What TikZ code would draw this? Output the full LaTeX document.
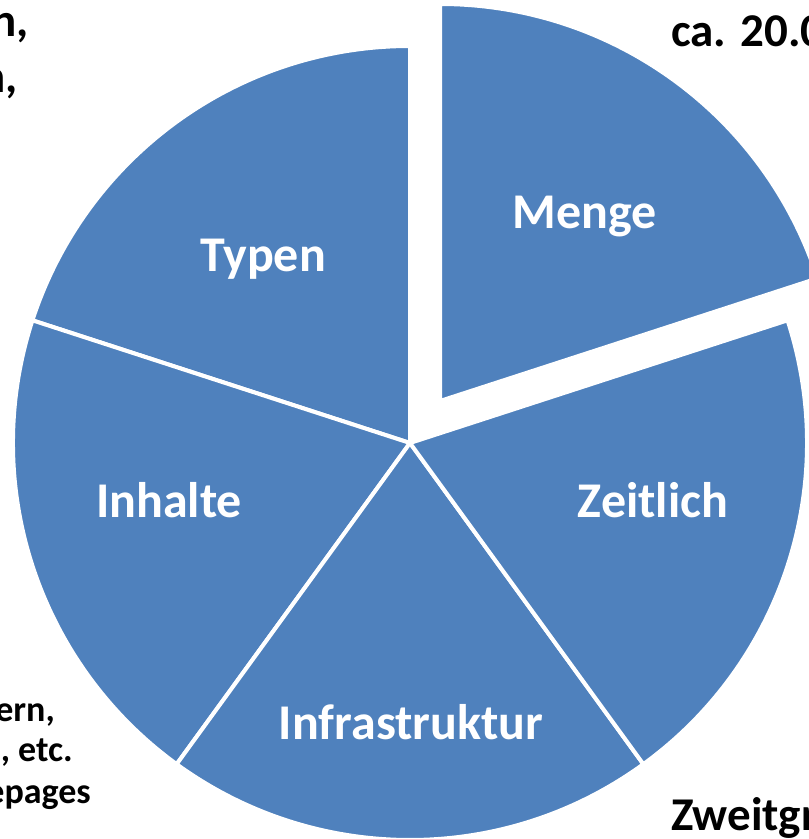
\documentclass[tikz,border=0pt]{standalone}
\usepackage{fontspec}
\setmainfont{Carlito}
\definecolor{pieblue}{HTML}{4F81BD}
\begin{document}
\begin{tikzpicture}[x=1pt,y=1pt,
  slice/.style={fill=pieblue,draw=white,line width=4pt,line join=miter},
  lbl/.style={text=white,inner sep=0pt,anchor=base,font=\fontsize{50}{60}\selectfont\bfseries},
  big/.style={inner sep=0pt,font=\fontsize{47}{56}\selectfont\bfseries},
  small/.style={inner sep=0pt,anchor=base east,font=\fontsize{36}{42}\selectfont\bfseries}]
\useasboundingbox (0,0) rectangle (809,839);
\clip (0,0) rectangle (809,839);
\coordinate (C) at (410,396);
\coordinate (M) at (440,438);
\def\R{397}
% slices
\filldraw[slice] (C) -- +(90:\R) arc[start angle=90,end angle=162,radius=\R] -- cycle;
\filldraw[slice] (C) -- +(162:\R) arc[start angle=162,end angle=234,radius=\R] -- cycle;
\filldraw[slice] (C) -- +(234:\R) arc[start angle=234,end angle=306,radius=\R] -- cycle;
\filldraw[slice] (C) -- +(306:\R) arc[start angle=306,end angle=378,radius=\R] -- cycle;
\filldraw[slice] (M) -- +(18:\R) arc[start angle=18,end angle=90,radius=\R] -- cycle;
% labels
\node[lbl] (menge) at (585,610) {Menge};
\node[lbl] (typen) at (263,567) {Typen};
\node[lbl] (inhalte) at (169,321) {Inhalte};
\node[lbl] (zeitlich) at (653,321) {Zeitlich};
\node[lbl] (infra) at (411,99) {Infrastruktur};
% outside texts
\node[big,anchor=base east] (tl1) at (29,802) {n,};
\node[big,anchor=base east] (tl2) at (18,746) {n,};
\node[big,anchor=base west] (tr) at (671,792) {ca. 20.0};
\node[big,anchor=base west] (br) at (671,9) {Zweitgr};
\node[small] (bl1) at (55,117) {ern,};
\node[small] (bl2) at (73,77) {, etc.};
\node[small] (bl3) at (91,35) {epages};
\end{tikzpicture}
\end{document}
